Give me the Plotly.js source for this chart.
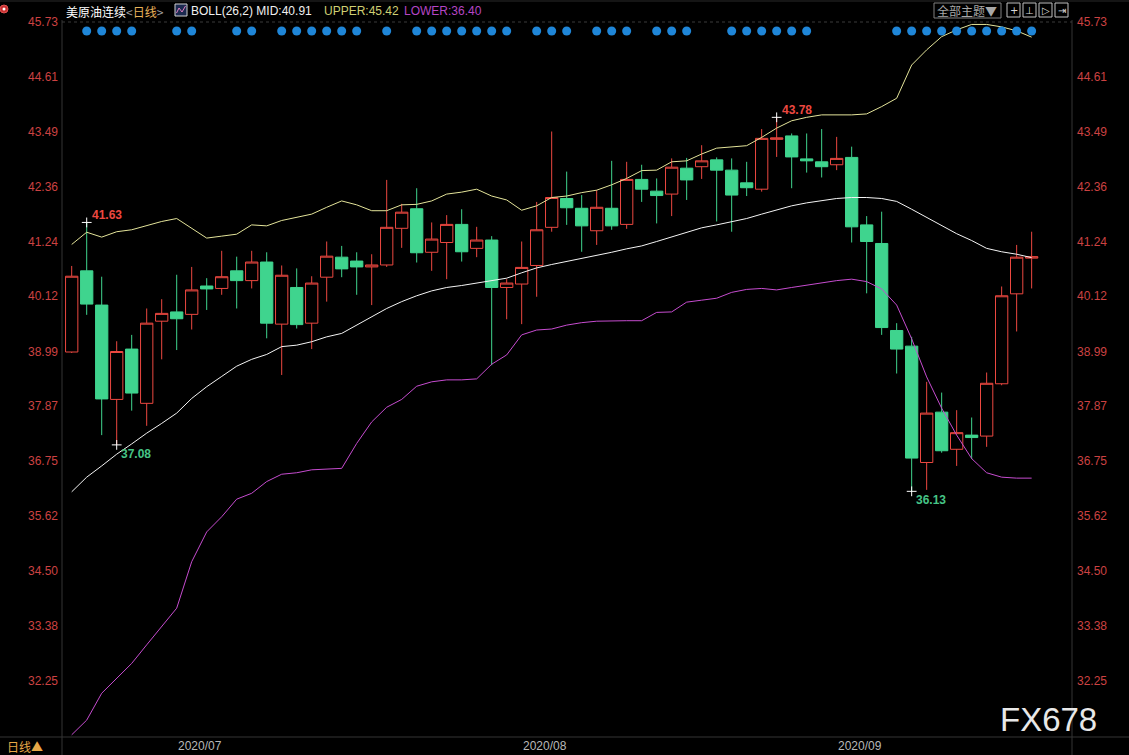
<!DOCTYPE html>
<html>
<head>
<meta charset="utf-8">
<script src="https://cdn.plot.ly/plotly-3.0.1.min.js"></script>
<style>
html,body{margin:0;padding:0;background:#000;}
#chart{width:1129px;height:755px;}
</style>
</head>
<body>
<div id="chart"></div>
<script>
// ---------- DATA ----------
const dates = [
 '2020-06-22','2020-06-23','2020-06-24','2020-06-25','2020-06-26','2020-06-29','2020-06-30',
 '2020-07-01','2020-07-02','2020-07-03','2020-07-06','2020-07-07','2020-07-08','2020-07-09','2020-07-10',
 '2020-07-13','2020-07-14','2020-07-15','2020-07-16','2020-07-17','2020-07-20','2020-07-21','2020-07-22',
 '2020-07-23','2020-07-24','2020-07-27','2020-07-28','2020-07-29','2020-07-30','2020-07-31',
 '2020-08-03','2020-08-04','2020-08-05','2020-08-06','2020-08-07','2020-08-10','2020-08-11','2020-08-12',
 '2020-08-13','2020-08-14','2020-08-17','2020-08-18','2020-08-19','2020-08-20','2020-08-21','2020-08-24',
 '2020-08-25','2020-08-26','2020-08-27','2020-08-28','2020-08-31',
 '2020-09-01','2020-09-02','2020-09-03','2020-09-04','2020-09-07','2020-09-08','2020-09-09','2020-09-10',
 '2020-09-11','2020-09-14','2020-09-15','2020-09-16','2020-09-17','2020-09-18'
];
const opens = [38.98,40.64,39.94,38.01,39.04,37.93,39.61,39.80,39.75,40.33,40.28,40.64,40.44,40.82,39.55,40.30,
 39.57,40.51,40.92,40.84,40.72,40.76,41.51,41.91,41.02,41.22,41.59,41.10,41.27,40.30,40.37,40.75,41.53,42.12,
 41.92,41.46,41.92,41.59,42.51,42.27,42.21,42.74,42.77,42.91,42.70,42.44,42.31,43.33,43.40,42.93,42.87,42.81,
 42.96,41.58,41.20,39.42,39.10,36.72,37.75,36.99,37.28,37.26,38.33,40.17,40.90];
const highs = [40.74,41.63,40.52,39.20,39.33,39.87,40.06,40.56,40.72,40.49,41.05,40.93,41.05,41.02,40.75,40.69,
 40.53,41.24,41.15,41.02,40.98,42.50,42.01,42.33,41.63,41.78,41.90,41.54,41.35,40.47,41.24,42.05,43.49,42.67,
 42.19,42.29,42.89,42.87,42.81,42.53,42.94,42.95,43.21,42.96,42.94,42.87,43.54,43.78,43.45,43.45,43.54,43.38,
 43.18,41.76,41.85,39.57,39.29,38.37,38.15,37.79,37.64,38.56,40.32,41.17,41.44];
const lows = [38.96,39.74,37.28,37.08,37.78,37.47,38.83,39.02,39.44,39.84,40.15,39.87,40.28,39.26,38.51,39.46,
 39.04,40.01,40.51,40.15,39.94,40.72,41.11,40.81,40.64,40.47,40.83,40.92,38.71,39.65,39.55,40.11,41.44,41.58,
 41.03,41.17,41.48,41.50,42.05,41.61,41.76,42.09,42.52,41.65,41.44,42.17,42.26,42.97,42.33,42.65,42.55,42.70,
 41.22,40.18,39.33,38.54,36.13,36.16,36.92,36.65,36.79,37.04,38.30,39.40,40.28];
const closes = [40.53,39.96,38.02,38.99,38.14,39.57,39.77,39.66,40.25,40.27,40.52,40.44,40.82,39.57,40.55,39.54,
 40.39,40.94,40.68,40.72,40.76,41.53,41.84,41.01,41.29,41.59,41.03,41.27,40.30,40.39,40.71,41.48,42.14,41.93,
 41.56,41.94,41.56,42.51,42.31,42.18,42.76,42.50,42.89,42.70,42.19,42.34,43.35,43.36,42.97,42.89,42.77,42.94,
 41.54,41.24,39.48,39.04,36.81,37.73,36.96,37.33,37.23,38.34,40.13,40.92,40.93];

const bollUpper = [41.18,41.43,41.33,41.44,41.48,41.56,41.65,41.71,41.51,41.31,41.35,41.39,41.58,41.56,41.67,41.74,
 41.80,41.94,42.07,41.99,41.87,41.87,41.99,42.00,42.07,42.21,42.25,42.31,42.17,42.09,41.88,41.97,42.14,42.17,
 42.24,42.29,42.40,42.53,42.69,42.70,42.87,42.89,43.03,43.15,43.17,43.20,43.37,43.56,43.71,43.78,43.83,43.83,
 43.83,43.85,44.00,44.17,44.85,45.16,45.43,45.57,45.68,45.68,45.63,45.55,45.42];
const bollMid = [36.12,36.42,36.65,36.89,37.10,37.32,37.52,37.73,38.03,38.27,38.48,38.69,38.83,38.93,39.09,39.12,
 39.19,39.29,39.36,39.53,39.70,39.87,40.01,40.13,40.23,40.30,40.34,40.39,40.43,40.49,40.60,40.70,40.77,40.83,
 40.90,40.96,41.02,41.09,41.15,41.24,41.33,41.42,41.52,41.58,41.65,41.71,41.80,41.89,41.97,42.03,42.08,42.12,
 42.14,42.14,42.12,42.06,41.90,41.73,41.56,41.40,41.26,41.10,41.03,40.98,40.91];
const bollLower = [31.15,31.45,32.00,32.31,32.61,32.99,33.36,33.74,34.69,35.30,35.61,35.97,36.09,36.33,36.48,36.51,
 36.57,36.59,36.60,37.11,37.55,37.85,38.01,38.28,38.37,38.41,38.41,38.43,38.73,38.92,39.33,39.43,39.45,39.53,
 39.58,39.61,39.62,39.62,39.62,39.79,39.80,40.00,40.04,40.08,40.20,40.26,40.28,40.25,40.30,40.35,40.40,40.44,
 40.47,40.42,40.27,39.94,39.25,38.47,37.83,37.28,36.80,36.51,36.42,36.40,36.40];

// days carrying an event dot (indices into dates)
const eventDays = [1,2,3,4,7,8,11,12,14,15,16,17,18,19,21,23,24,25,26,27,28,29,31,32,33,35,36,37,39,40,41,
 44,45,46,47,48,49,55,56,57,58,59,60,61,62,63,64];
// marked extremes (indices)
const markHigh = [1,47];
const markLow = [3,56];

const yTicks = [45.73,44.61,43.49,42.36,41.24,40.12,38.99,37.87,36.75,35.62,34.50,33.38,32.25];
const monthStarts = ['2020-07-01','2020-08-03','2020-09-01'];
const monthLabels = ['2020/07','2020/08','2020/09'];

const headerName = '美原油连续';
const headerPeriod = '日线';
const bollLabel = 'BOLL(26,2) MID:40.91';
const upperLabel = 'UPPER:45.42';
const lowerLabel = 'LOWER:36.40';

// ---------- LAYOUT HELPERS ----------
const W = 1129, H = 755;
const L = 62, R = 1072, T = 22, B = 737;
const PX = x => (x - L) / (R - L);
const PY = y => (B - y) / (B - T);
const yRange = [31.105, 45.73];
const xRange = [-0.647, 66.69];
const dotY = yRange[1] - (31 - T) * (yRange[1] - yRange[0]) / (B - T);

const RED = '#ec4840', GREEN = '#3fd48e';
const tickText = yTicks.map(v => v.toFixed(2));
const baseFont = 'Liberation Sans, Arial, Noto Sans CJK SC, sans-serif';
const cjkFont = 'Noto Sans CJK SC, sans-serif';

const traces = [
  {
    type: 'candlestick', x: dates, open: opens, high: highs, low: lows, close: closes,
    increasing: {line: {color: RED, width: 1}, fillcolor: '#000000'},
    decreasing: {line: {color: GREEN, width: 1}, fillcolor: GREEN},
    whiskerwidth: 0, hoverinfo: 'skip', showlegend: false, xaxis: 'x', yaxis: 'y'
  },
  {type: 'scatter', mode: 'lines', x: dates, y: bollUpper, line: {color: '#e4e49a', width: 1},
   hoverinfo: 'skip', showlegend: false, yaxis: 'y2'},
  {type: 'scatter', mode: 'lines', x: dates, y: bollMid, line: {color: '#f4f4f4', width: 1},
   hoverinfo: 'skip', showlegend: false, yaxis: 'y2'},
  {type: 'scatter', mode: 'lines', x: dates, y: bollLower, line: {color: '#c64ccf', width: 1},
   hoverinfo: 'skip', showlegend: false, yaxis: 'y2'},
  {type: 'scatter', mode: 'markers', x: eventDays.map(i => dates[i]), y: eventDays.map(() => dotY),
   marker: {color: '#1f86d8', size: 9}, hoverinfo: 'skip', showlegend: false, yaxis: 'y2'},
  {type: 'scatter', mode: 'markers',
   x: markHigh.map(i => dates[i]).concat(markLow.map(i => dates[i])),
   y: markHigh.map(i => highs[i]).concat(markLow.map(i => lows[i])),
   marker: {symbol: 'cross-thin', size: 7, line: {color: '#ffffff', width: 1}},
   hoverinfo: 'skip', showlegend: false, yaxis: 'y2'}
];

const annotations = [];
markHigh.forEach(i => annotations.push({
  x: dates[i], y: highs[i], xref: 'x', yref: 'y', text: '<b>' + highs[i].toFixed(2) + '</b>', showarrow: false,
  xanchor: 'left', yanchor: 'bottom', xshift: 3, yshift: -2, font: {color: RED, size: 12, family: baseFont}
}));
markLow.forEach(i => annotations.push({
  x: dates[i], y: lows[i], xref: 'x', yref: 'y', text: '<b>' + lows[i].toFixed(2) + '</b>', showarrow: false,
  xanchor: 'left', yanchor: 'top', xshift: 2, yshift: 0, font: {color: '#46c486', size: 12, family: baseFont}
}));
// header
annotations.push({xref: 'paper', yref: 'paper', x: PX(64), y: PY(11), xanchor: 'left', yanchor: 'middle',
  showarrow: false, font: {size: 12, family: cjkFont, color: '#ffffff'},
  text: headerName + '<span style="color:#a0a0a0">&lt;</span><span style="color:#e8b25a">' + headerPeriod +
        '</span><span style="color:#a0a0a0">&gt;</span>'});
annotations.push({xref: 'paper', yref: 'paper', x: PX(189), y: PY(11), xanchor: 'left', yanchor: 'middle',
  showarrow: false, font: {size: 12, family: baseFont, color: '#f0f0f0'}, text: bollLabel});
annotations.push({xref: 'paper', yref: 'paper', x: PX(322), y: PY(11), xanchor: 'left', yanchor: 'middle',
  showarrow: false, font: {size: 12, family: baseFont, color: '#cfcf72'}, text: upperLabel});
annotations.push({xref: 'paper', yref: 'paper', x: PX(402), y: PY(11), xanchor: 'left', yanchor: 'middle',
  showarrow: false, font: {size: 12, family: baseFont, color: '#b545c4'}, text: lowerLabel});
// top right button
annotations.push({xref: 'paper', yref: 'paper', x: PX(967), y: PY(10.5), xanchor: 'center', yanchor: 'middle',
  showarrow: false, font: {size: 12, family: cjkFont, color: '#a8a8a8'}, text: '全部主题▼'});
[['+',1013.5],['⊥',1029.5],['▷',1045.5],['⇥',1061.5]].forEach(g => annotations.push({
  xref: 'paper', yref: 'paper', x: PX(g[1]), y: PY(10), xanchor: 'center', yanchor: 'middle',
  showarrow: false, font: {size: 10, family: 'DejaVu Sans', color: '#d8d8d8'}, text: g[0]}));
// bottom-left period label
annotations.push({xref: 'paper', yref: 'paper', x: PX(5), y: PY(746), xanchor: 'left', yanchor: 'middle',
  showarrow: false, font: {size: 12, family: cjkFont, color: '#e8a848'}, text: '日线▲'});
// watermark
annotations.push({xref: 'paper', yref: 'paper', x: PX(998), y: PY(719), xanchor: 'left', yanchor: 'middle',
  showarrow: false, font: {size: 33, family: 'Liberation Sans, Arial, sans-serif', color: '#e8e8e8'}, text: 'FX678'});

const lineCol = '#353535';
const shapes = [
  {type: 'line', xref: 'paper', yref: 'paper', x0: 0, x1: 0, y0: PY(20), y1: PY(755), line: {color: lineCol, width: 1}},
  {type: 'line', xref: 'paper', yref: 'paper', x0: 1, x1: 1, y0: PY(20), y1: PY(755), line: {color: lineCol, width: 1}},
  {type: 'line', xref: 'paper', yref: 'paper', x0: PX(0), x1: PX(W), y0: 0, y1: 0, line: {color: lineCol, width: 1}},
  {type: 'line', xref: 'paper', yref: 'paper', x0: PX(0), x1: PX(W), y0: PY(1), y1: PY(1), line: {color: '#2a2a2a', width: 1}},
  {type: 'line', xref: 'paper', yref: 'paper', x0: 0, x1: 1, y0: 1, y1: 1, line: {color: '#3a3a3a', width: 1, dash: 'dot'}},
  // header icons
  {type: 'circle', xref: 'paper', yref: 'paper', x0: PX(0), x1: PX(8), y0: PY(13), y1: PY(5), fillcolor: '#c83030', line: {color: '#e05050', width: 1}},
  {type: 'circle', xref: 'paper', yref: 'paper', x0: PX(2.5), x1: PX(5.5), y0: PY(10.5), y1: PY(7.5), fillcolor: '#ffffff', line: {width: 0}},
  {type: 'rect', xref: 'paper', yref: 'paper', x0: PX(175), x1: PX(187), y0: PY(16), y1: PY(4), fillcolor: '#1c2a50', line: {color: '#d0d0d0', width: 1}},
  {type: 'path', xref: 'paper', yref: 'paper',
   path: `M ${PX(176.5)} ${PY(13)} L ${PX(179)} ${PY(8)} L ${PX(182)} ${PY(12)} L ${PX(185.5)} ${PY(6)}`,
   line: {color: '#e080c0', width: 1}},
  {type: 'rect', xref: 'paper', yref: 'paper', x0: PX(934), x1: PX(1001), y0: PY(18), y1: PY(3), line: {color: '#808080', width: 1}},
  {type: 'rect', xref: 'paper', yref: 'paper', x0: PX(1007), x1: PX(1020), y0: PY(17), y1: PY(3), line: {color: '#c0c0c0', width: 1}},
  {type: 'rect', xref: 'paper', yref: 'paper', x0: PX(1023), x1: PX(1036), y0: PY(17), y1: PY(3), line: {color: '#c0c0c0', width: 1}},
  {type: 'rect', xref: 'paper', yref: 'paper', x0: PX(1039), x1: PX(1052), y0: PY(17), y1: PY(3), line: {color: '#c0c0c0', width: 1}},
  {type: 'rect', xref: 'paper', yref: 'paper', x0: PX(1055), x1: PX(1068), y0: PY(17), y1: PY(3), line: {color: '#c0c0c0', width: 1}}
];

const yAxisCommon = {
  range: yRange, tickmode: 'array', tickvals: yTicks, ticktext: tickText, showgrid: false, zeroline: false,
  ticks: '', showline: false, tickfont: {color: '#cc4242', size: 12, family: baseFont}, fixedrange: true
};

const layout = {
  width: W, height: H,
  margin: {l: L, r: W - R, t: T, b: H - B, pad: 0},
  paper_bgcolor: '#000000', plot_bgcolor: '#000000',
  showlegend: false,
  boxgap: 0.18,
  boxgroupgap: 0,
  xaxis: {
    type: 'category', range: xRange, rangeslider: {visible: false}, showgrid: false, zeroline: false,
    tickmode: 'array', tickvals: monthStarts, ticktext: monthLabels, ticks: '', showline: false,
    ticklabelshift: 23, tickfont: {color: '#b8b8b8', size: 12, family: baseFont}, fixedrange: true
  },
  yaxis: Object.assign({side: 'left', ticklabelstandoff: 3}, yAxisCommon),
  yaxis2: Object.assign({side: 'right', overlaying: 'y', ticklabelstandoff: 4}, yAxisCommon),
  annotations: annotations,
  shapes: shapes
};

Plotly.newPlot('chart', traces, layout, {displayModeBar: false, staticPlot: true});
</script>
</body>
</html>
